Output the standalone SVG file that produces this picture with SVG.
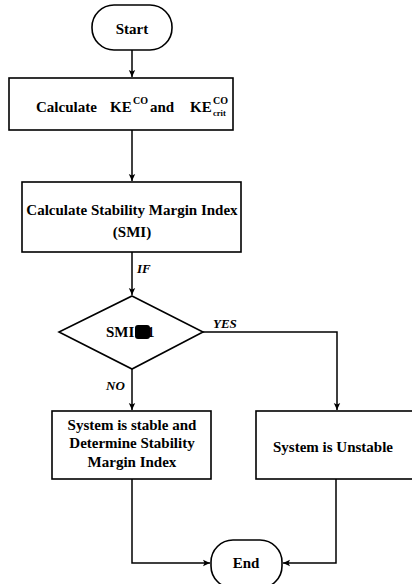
<svg xmlns="http://www.w3.org/2000/svg" width="412" height="584" viewBox="0 0 412 584">
<defs>
<marker id="ah" markerWidth="8" markerHeight="8" refX="7" refY="4" orient="auto" markerUnits="userSpaceOnUse">
<path d="M0,0.8 L7,4 L0,7.2 L1.5,4 Z" fill="#000"/>
</marker>
<style>
.s{fill:#fff;stroke:#000;stroke-width:1.6}
.t{font-family:"Liberation Serif",serif;font-weight:bold;font-size:15px;fill:#000;text-anchor:middle}
.a{font-family:"Liberation Serif",serif;font-weight:bold;font-size:15px;fill:#000;text-anchor:start}
.l{font-family:"Liberation Serif",serif;font-weight:bold;font-style:italic;font-size:13px;fill:#000}
.c{fill:none;stroke:#000;stroke-width:1.5}
</style>
</defs>
<rect width="412" height="584" fill="#fff"/>
<g id="connectors">
<line class="c" x1="132" y1="50" x2="132" y2="77" marker-end="url(#ah)"/>
<line class="c" x1="132" y1="130" x2="132" y2="181" marker-end="url(#ah)"/>
<line class="c" x1="132" y1="252" x2="132" y2="295" marker-end="url(#ah)"/>
<polyline class="c" points="203,332 337,332 337,410" marker-end="url(#ah)"/>
<line class="c" x1="132" y1="369" x2="132" y2="410" marker-end="url(#ah)"/>
<polyline class="c" points="132,479 132,563 210,563" marker-end="url(#ah)"/>
<polyline class="c" points="336,479 336,563 283,563" marker-end="url(#ah)"/>
<text class="l" x="137" y="273">IF</text>
<text class="l" x="213" y="328">YES</text>
<text class="l" x="106" y="390">NO</text>
</g>
<g id="start">
<rect class="s" x="92" y="5" width="80" height="45" rx="22" ry="22"/>
<text class="t" x="132" y="34">Start</text>
</g>
<g id="calcKE">
<rect class="s" x="9" y="78" width="224" height="52"/>
<text class="a" x="36" y="112">Calculate</text>
<text class="a" x="110" y="112">KE</text>
<text class="a" x="133" y="104" style="font-size:10px">CO</text>
<text class="a" x="150" y="112">and</text>
<text class="a" x="190" y="112">KE</text>
<text class="a" x="213" y="104" style="font-size:10px">CO</text>
<text class="a" x="213" y="116" style="font-size:8.5px">crit</text>
</g>
<g id="calcSMI">
<rect class="s" x="22" y="182" width="219" height="70"/>
<text class="t" x="132" y="215">Calculate Stability Margin Index</text>
<text class="t" x="132" y="237">(SMI)</text>
</g>
<g id="decision">
<polygon class="s" points="132,296 203,332 132,369 59,332"/>
<text class="a" x="106" y="337">SMI</text>
<text class="a" x="147" y="337">1</text>
<rect x="135" y="325" width="15" height="14" rx="3" fill="#000"/>
</g>
<g id="stable">
<rect class="s" x="52" y="411" width="159" height="68"/>
<text class="t" x="132" y="430">System is stable and</text>
<text class="t" x="132" y="448">Determine Stability</text>
<text class="t" x="132" y="467">Margin Index</text>
</g>
<g id="unstable">
<rect class="s" x="256" y="411" width="164" height="68"/>
<text class="t" x="333" y="452">System is Unstable</text>
</g>
<g id="end">
<rect class="s" x="211" y="540" width="71" height="48" rx="22" ry="22"/>
<text class="t" x="246" y="568">End</text>
</g>
</svg>
